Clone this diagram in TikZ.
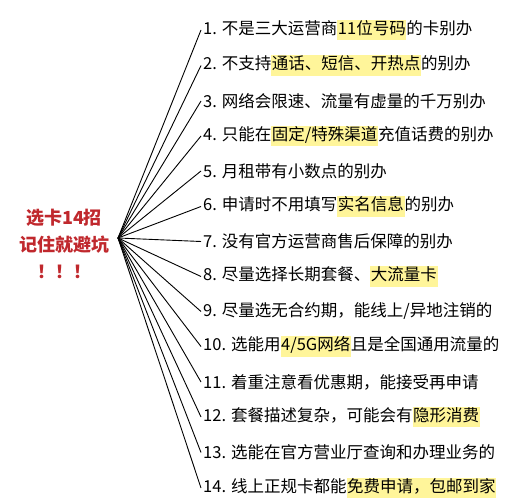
\documentclass[tikz,border=0pt]{standalone}
\usepackage{fontspec}
\newfontfamily\cjk{Noto Sans CJK SC}
\usepackage{tikz}
\usetikzlibrary{positioning}
\definecolor{tipRojo}{HTML}{C0282D}
\definecolor{tipAmarillo}{HTML}{FFF59A}
\newcommand{\resalta}[1]{{\setlength{\fboxsep}{0.6pt}\colorbox{tipAmarillo}{\strut #1}}}

\begin{document}
\begin{tikzpicture}[
        x=1pt,
        y=-1pt,
        titulo/.style={font=\cjk\bfseries\fontsize{18}{27}\selectfont, text=tipRojo, align=center},
        item/.style={font=\cjk\fontsize{16.5}{18}\selectfont, anchor=west, inner sep=2pt},
        rama/.style={black, line width=0.9pt}
    ]
        \useasboundingbox (0,0) rectangle (532,500);

        % Título a la izquierda y punto de donde salen las ramas.
        \node[titulo] (titulo) at (64,244) {选卡14招\\记住就避坑\\！！！};
        \coordinate (nudo) at (118,238);

        % Los catorce consejos.
        \node[item] (i1)  at (201,30)    {1. 不是三大运营商\resalta{11位号码}的卡别办};
        \node[item] (i2)  at (201,65.5)  {2. 不支持\resalta{通话、短信、开热点}的别办};
        \node[item] (i3)  at (201,101)   {3. 网络会限速、流量有虚量的千万别办};
        \node[item] (i4)  at (201,136)   {4. 只能在\resalta{固定/特殊渠道}充值话费的别办};
        \node[item] (i5)  at (201,171)   {5. 月租带有小数点的别办};
        \node[item] (i6)  at (201,206.5) {6. 申请时不用填写\resalta{实名信息}的别办};
        \node[item] (i7)  at (201,241.5) {7. 没有官方运营商售后保障的别办};
        \node[item] (i8)  at (201,276.5) {8. 尽量选择长期套餐、\resalta{大流量卡}};
        \node[item] (i9)  at (201,311.5) {9. 尽量选无合约期，能线上/异地注销的};
        \node[item] (i10) at (201,346.5) {10. 选能用\resalta{4/5G网络}且是全国通用流量的};
        \node[item] (i11) at (201,382)   {11. 着重注意看优惠期，能接受再申请};
        \node[item] (i12) at (201,417)   {12. 套餐描述复杂，可能会有\resalta{隐形消费}};
        \node[item] (i13) at (201,452.5) {13. 选能在官方营业厅查询和办理业务的};
        \node[item] (i14) at (201,488)   {14. 线上正规卡都能\resalta{免费申请，包邮到家}};

        % Ramas.
        \foreach \k in {1,...,14}
            \draw[rama] (nudo) -- (i\k.west);
    \end{tikzpicture}
\end{document}
